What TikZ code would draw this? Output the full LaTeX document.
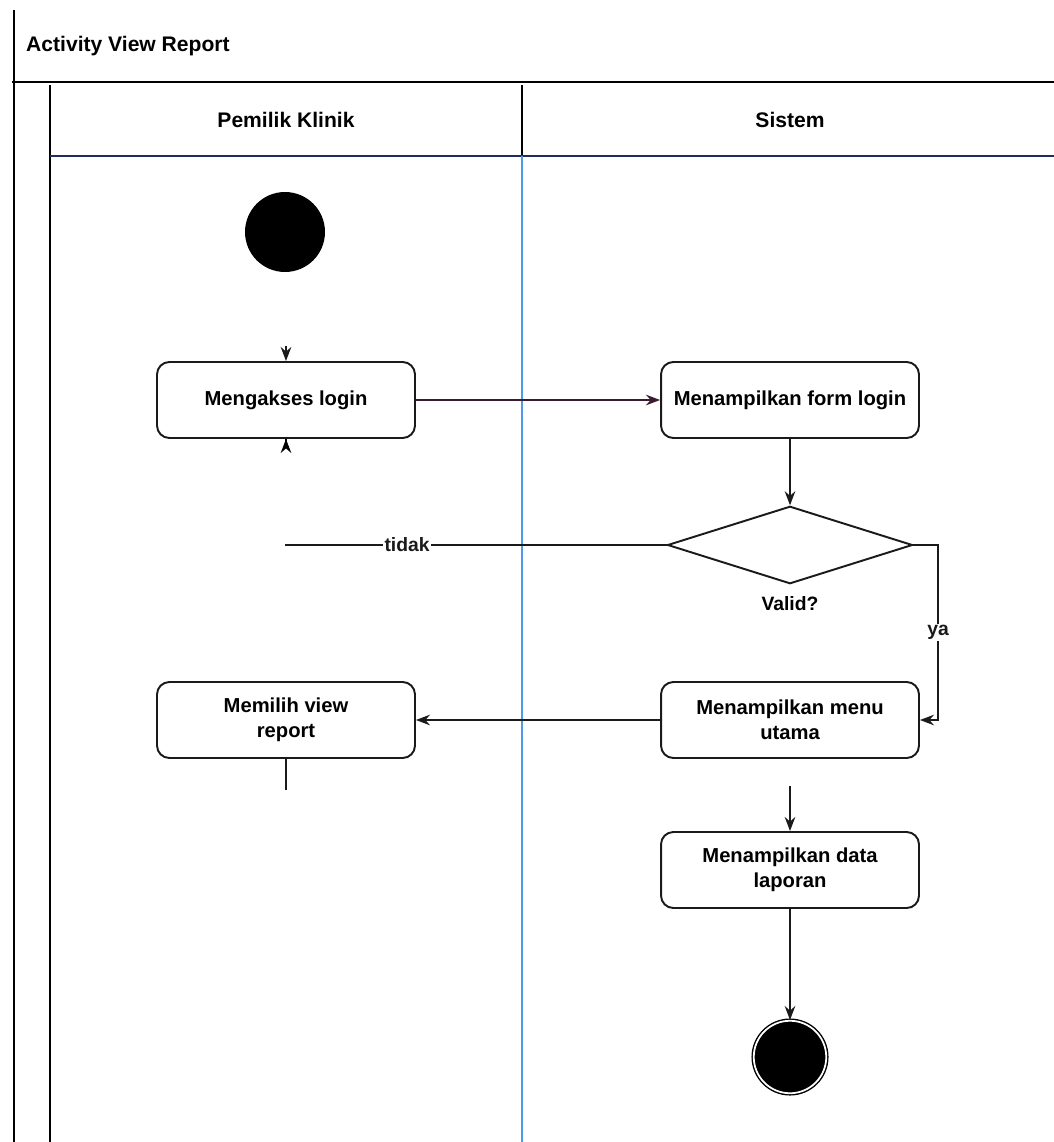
\documentclass[tikz,border=0pt]{standalone}
\usepackage{fontspec}
\setmainfont{Liberation Sans}
\usepackage{tikz}
\usetikzlibrary{
  arrows.meta,
  shapes.geometric,
  positioning,
  calc
}
\definecolor{acLine}{HTML}{1A1A1A}
\definecolor{acFlow}{HTML}{3A1C32}
\definecolor{acLane}{HTML}{4A9BE8}
\definecolor{acHead}{HTML}{1F2F5A}
\tikzset{
  acnode/.style={
    draw=acLine, line width=1.1pt, rounded corners=7pt, minimum width=5.16cm,
    minimum height=1.52cm, font=\fontsize{11.5}{14}\selectfont\bfseries,
    align=center, fill=white
  },
  decide/.style={draw=acLine, line width=1.1pt, diamond, aspect=3.1,
    minimum width=4.9cm, minimum height=1.55cm, inner sep=0pt, fill=white},
  startnode/.style={circle, fill=black, minimum size=1.6cm, inner sep=0pt},
  endnode/.style={circle, draw=black, thick, fill=black, minimum size=1.45cm,
    inner sep=0pt, double=white, double distance=1pt},
  flow/.style={-{Stealth[length=2.8mm]}, line width=1.2pt, acLine},
  netline/.style={line width=1.2pt, acLine},
  frame/.style={line width=1.4pt, black},
  lanehead/.style={font=\fontsize{12}{14}\selectfont\bfseries},
  tag/.style={font=\fontsize{11}{13}\selectfont\bfseries, fill=white, inner sep=1pt}
}
\begin{document}
\begin{tikzpicture}[x=0.02cm, y=-0.02cm, node distance=10mm]
  \useasboundingbox (0,0) rectangle (1054,1142);
  % pool and lanes
  \draw[frame] (14,10) -- (14,1142);
  \draw[frame] (12,82) -- (1054,82);
  \draw[frame] (50,85) -- (50,1142);
  \draw[frame] (522,85) -- (522,155);
  \draw[line width=1.2pt, acHead] (50,156) -- (1054,156);
  \draw[line width=1pt, acLane] (522,156) -- (522,1142);
  \node[anchor=west, font=\fontsize{12}{14}\selectfont\bfseries] (title) at (20,46) {Activity View Report};
  \node[lanehead] (lane1) at (286,120) {Pemilik Klinik};
  \node[lanehead] (lane2) at (790,120) {Sistem};

  % activities
  \node[startnode] (start) at (285,232) {};
  \node[acnode] (login) at (286,400) {Mengakses login};
  \node[acnode] (form) at (790,400) {Menampilkan form login};
  \node[decide] (valid) at (790,545) {};
  \node[tag, fill=none, below=2mm of valid] (validlbl) {Valid?};
  \node[acnode] (menu) at (790,720) {Menampilkan menu\\utama};
  \node[acnode] (view) at (286,720) {Memilih view\\report};
  \node[acnode] (data) at (790,870) {Menampilkan data\\laporan};
  \node[endnode] (stop) at (790,1057) {};
  \coordinate (loginin) at (286,346);
  \coordinate (back) at (285,545);
  \coordinate (yes) at (938,545);
  \coordinate (viewout) at (286,790);
  \coordinate (datain) at (790,786);

  % connectors
  \draw[flow] (loginin) -- (login.north);
  \draw[-{Stealth[length=2.8mm]}, thick] ($(login.south)+(0,0.35)$) -- (login.south);
  \draw[flow, acFlow] (login.east) -- (form.west);
  \draw[flow] (form.south) -- (valid.north);
  \draw[netline] (valid.west) -- node[tag, pos=0.68] {tidak} (back);
  \draw[flow] (valid.east) -- (yes) -- node[tag, pos=0.5] {ya} (yes |- menu.east) -- (menu.east);
  \draw[flow] (menu.west) -- (view.east);
  \draw[netline] (view.south) -- (viewout);
  \draw[flow] (datain) -- (data.north);
  \draw[flow] (data.south) -- (stop.north);
\end{tikzpicture}
\end{document}
